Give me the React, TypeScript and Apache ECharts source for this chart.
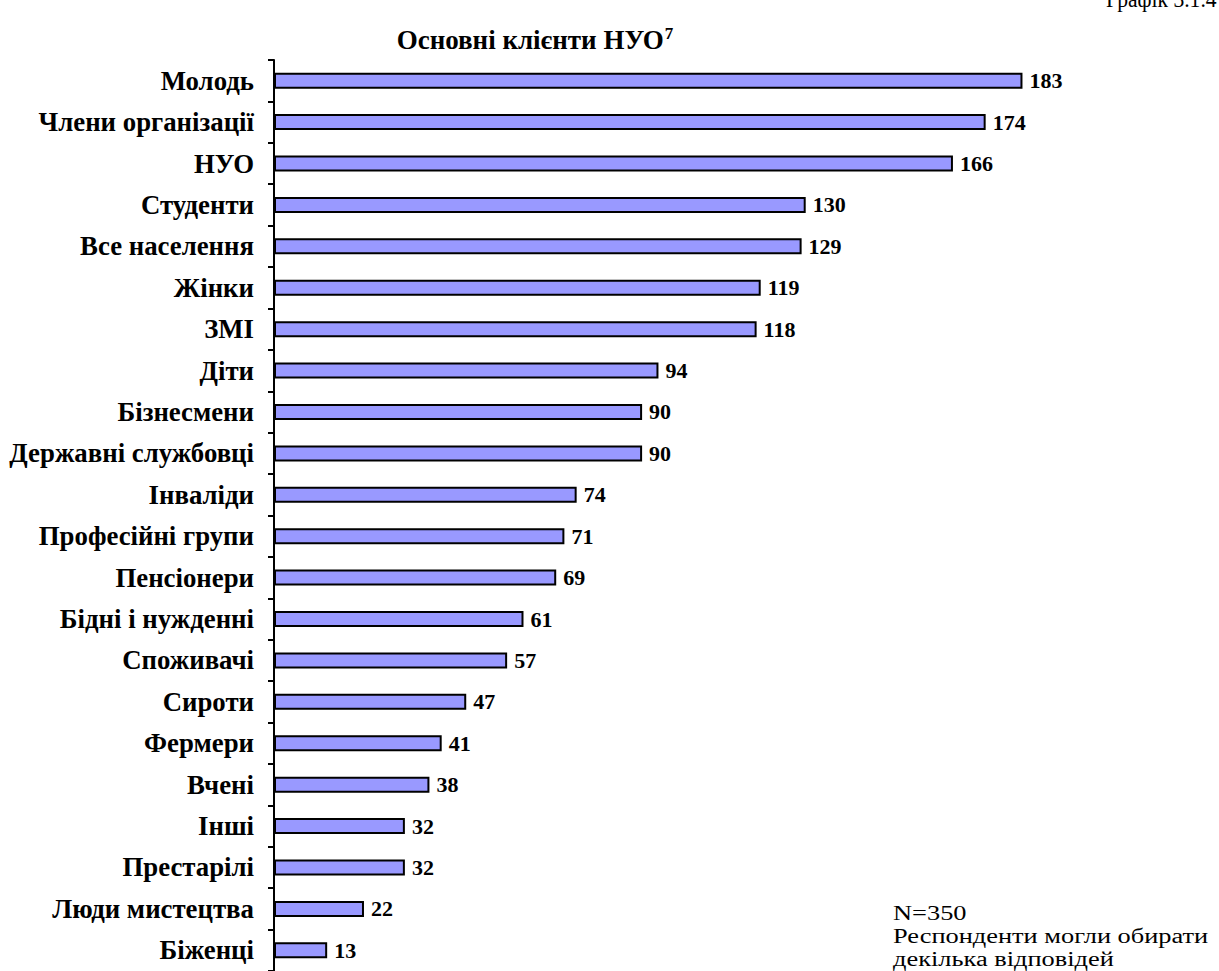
import React, { useEffect, useRef } from "react";
import * as echarts from "echarts";

const categories = [
  "Молодь",
  "Члени організації",
  "НУО",
  "Студенти",
  "Все населення",
  "Жінки",
  "ЗМІ",
  "Діти",
  "Бізнесмени",
  "Державні службовці",
  "Інваліди",
  "Професійні групи",
  "Пенсіонери",
  "Бідні і нужденні",
  "Споживачі",
  "Сироти",
  "Фермери",
  "Вчені",
  "Інші",
  "Престарілі",
  "Люди мистецтва",
  "Біженці",
];
const values = [183, 174, 166, 130, 129, 119, 118, 94, 90, 90, 74, 71, 69, 61, 57, 47, 41, 38, 32, 32, 22, 13];

const titleText = "Основні клієнти НУО";
const titleSup = "7";
const chartNo = "Графік 3.1.4";
const noteLines = ["N=350", "Респонденти могли обирати", "декілька відповідей"];

const serif = "'Liberation Serif', 'Times New Roman', serif";

export default function App() {
  const ref = useRef<HTMLDivElement>(null);
  useEffect(() => {
    if (!ref.current) return;
    const chart = echarts.init(ref.current, null, { renderer: "svg" });
    chart.setOption({
      animation: false,
      backgroundColor: "#ffffff",
      textStyle: { fontFamily: serif },
      title: {
        text: `{t|${titleText}}{s|${titleSup}}`,
        left: 530,
        textAlign: "center",
        top: 20,
        textStyle: {
          rich: {
            t: { fontFamily: serif, fontWeight: "bold", fontSize: 27, color: "#000" },
            s: { fontFamily: serif, fontWeight: "bold", fontSize: 17, color: "#000", verticalAlign: "top", padding: [0, 0, 12, 1] },
          },
        },
      },
      graphic: [
        {
          type: "text",
          x: 1106,
          y: -1,
          scaleX: 0.9,
          style: { text: chartNo, font: `24px ${serif}`, fill: "#000", verticalAlign: "middle" },
        },
        {
          type: "text",
          x: 893,
          y: 902,
          scaleX: 1.32,
          style: { text: noteLines.join("\n"), font: `20px ${serif}`, lineHeight: 23, fill: "#000" },
        },
      ],
      grid: { left: 274, top: 60, width: 818, height: 915, containLabel: false },
      xAxis: {
        type: "value",
        min: 0,
        max: 200,
        show: false,
      },
      yAxis: {
        type: "category",
        inverse: true,
        data: categories,
        axisLine: { show: true, lineStyle: { color: "#000", width: 2 } },
        axisTick: { show: true, length: 6, inside: false, lineStyle: { color: "#000", width: 2 } },
        axisLabel: {
          color: "#000",
          fontFamily: serif,
          fontWeight: "bold",
          fontSize: 26.8,
          margin: 20,
        },
        splitLine: { show: false },
      },
      series: [
        {
          type: "bar",
          data: values,
          barWidth: 16,
          itemStyle: { color: "#9999FF", borderColor: "#000", borderWidth: 2 },
          label: {
            show: true,
            position: "right",
            distance: 7,
            color: "#000",
            fontFamily: serif,
            fontWeight: "bold",
            fontSize: 22,
          },
        },
      ],
    });
    return () => chart.dispose();
  }, []);
  return (
    <div
      ref={ref}
      style={{ position: "fixed", left: 0, top: 0, width: 1219, height: 971, background: "#fff" }}
    />
  );
}
